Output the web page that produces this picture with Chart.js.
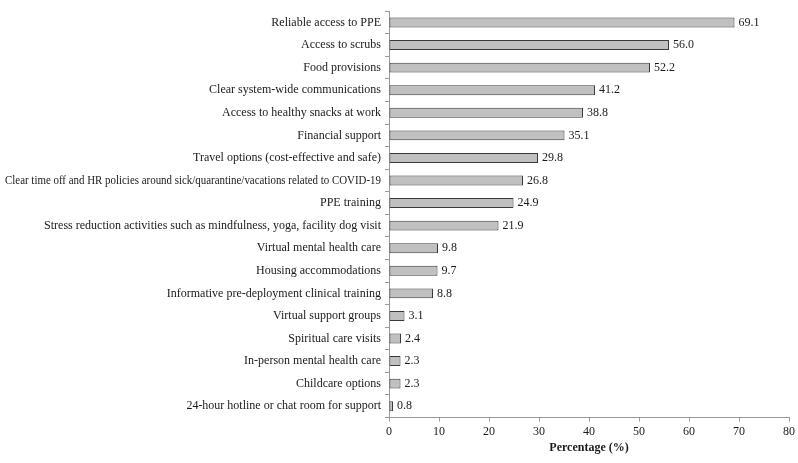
<!DOCTYPE html>
<html>
<head>
<meta charset="utf-8">
<script src="https://cdn.jsdelivr.net/npm/chart.js@4"></script>
<style>
  html, body { margin: 0; padding: 0; background: #fff; }
  #wrap { width: 798px; height: 463px; }
</style>
</head>
<body>
<div id="wrap"><canvas id="chart" width="798" height="463"></canvas></div>
<script>
// Categories, top to bottom
const categories = [
    "Reliable access to PPE",
    "Access to scrubs",
    "Food provisions",
    "Clear system-wide communications",
    "Access to healthy snacks at work",
    "Financial support",
    "Travel options (cost-effective and safe)",
    "Clear time off and HR policies around sick/quarantine/vacations related to COVID-19",
    "PPE training",
    "Stress reduction activities such as mindfulness, yoga, facility dog visit",
    "Virtual mental health care",
    "Housing accommodations",
    "Informative pre-deployment clinical training",
    "Virtual support groups",
    "Spiritual care visits",
    "In-person mental health care",
    "Childcare options",
    "24-hour hotline or chat room for support"
];

const percentages = [69.1, 56.0, 52.2, 41.2, 38.8, 35.1, 29.8, 26.8, 24.9, 21.9, 9.8, 9.7, 8.8, 3.1, 2.4, 2.3, 2.3, 0.8];

const xTicks = [0, 10, 20, 30, 40, 50, 60, 70, 80];

const serif = "'Liberation Serif', 'Times New Roman', serif";

// Category labels drawn by hand so the long one can be squeezed to fit
const categoryLabels = {
    id: 'categoryLabels',
    afterDraw(chart) {
        const ctx = chart.ctx;
        const yScale = chart.scales.y;
        const right = yScale.right - 8;
        ctx.save();
        ctx.font = '12px ' + serif;
        ctx.fillStyle = '#1a1a1a';
        ctx.textBaseline = 'middle';
        ctx.textAlign = 'right';
        categories.forEach((label, i) => {
            ctx.fillText(label, right, yScale.getPixelForValue(i), right - 5);
        });
        ctx.restore();
    }
};

// Draw the value next to each bar
const valueLabels = {
    id: 'valueLabels',
    afterDatasetsDraw(chart) {
        const ctx = chart.ctx;
        const meta = chart.getDatasetMeta(0);
        ctx.save();
        ctx.font = '12px ' + serif;
        ctx.fillStyle = '#1a1a1a';
        ctx.textBaseline = 'middle';
        ctx.textAlign = 'left';
        meta.data.forEach((bar, i) => {
            ctx.fillText(percentages[i].toFixed(1), bar.x + 4, bar.y);
        });
        ctx.restore();
    }
};

const ctx = document.getElementById('chart').getContext('2d');
const chart = new Chart(ctx, {
    type: 'bar',
    data: {
        labels: categories,
        datasets: [{
            data: percentages,
            backgroundColor: '#c0c0c0',
            borderColor: '#3a3a3a',
            borderWidth: 1,
            borderSkipped: false,
            barPercentage: 0.44,
            categoryPercentage: 1
        }]
    },
    options: {
        indexAxis: 'y',
        responsive: false,
        animation: false,
        layout: { padding: { top: 2.5, right: 9, bottom: 8, left: 0 } },
        plugins: {
            legend: { display: false },
            tooltip: { enabled: false }
        },
        scales: {
            x: {
                min: 0,
                max: 80,
                afterBuildTicks: (axis) => { axis.ticks = xTicks.map(v => ({ value: v })); },
                border: { color: '#999', width: 1 },
                grid: { drawOnChartArea: false, tickLength: 4, color: '#999' },
                ticks: {
                    color: '#1a1a1a',
                    font: { family: serif, size: 12 },
                    padding: 3
                },
                title: {
                    display: true,
                    text: 'Percentage (%)',
                    color: '#1a1a1a',
                    font: { family: serif, size: 12, weight: 'bold' },
                    padding: { top: 2, bottom: 0 }
                },
                afterFit: (axis) => { axis.height = 37.5; }
            },
            y: {
                border: { color: '#999', width: 1 },
                grid: { drawOnChartArea: false, offset: true, tickLength: 4, color: '#999' },
                ticks: {
                    color: 'rgba(0,0,0,0)',
                    font: { family: serif, size: 12 },
                    padding: 4,
                    autoSkip: false
                },
                afterFit: (axis) => { axis.width = 389; }
            }
        }
    },
    plugins: [valueLabels, categoryLabels]
});
</script>
</body>
</html>
